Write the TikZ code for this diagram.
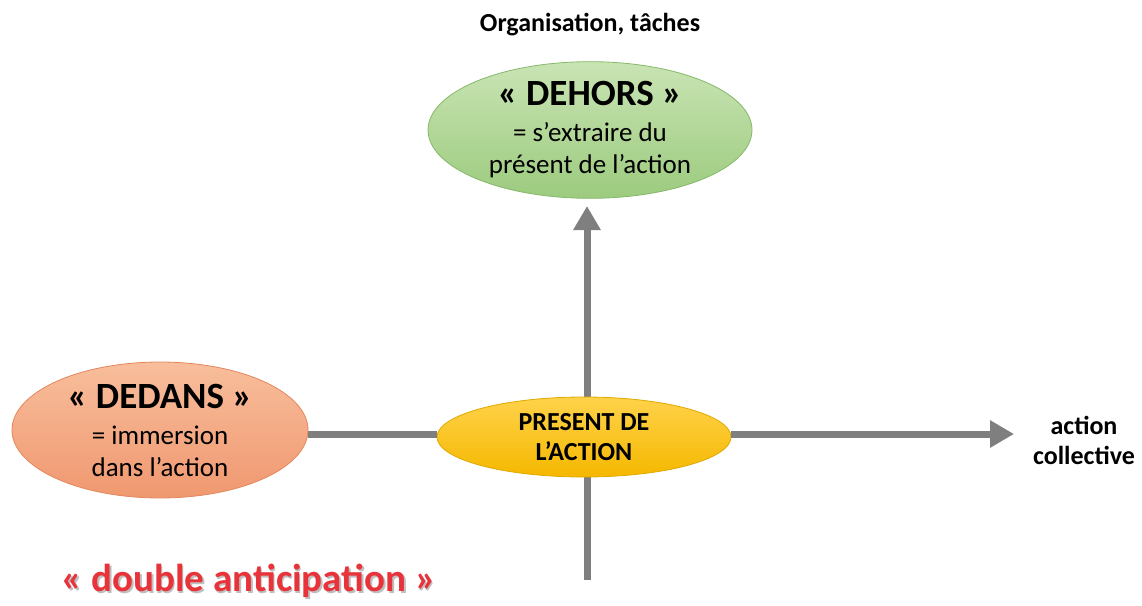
\documentclass[tikz,border=0pt]{standalone}
\usepackage{fontspec}
\setmainfont{Carlito}
\usetikzlibrary{shapes.geometric,arrows.meta}
\definecolor{axisgray}{HTML}{7F7F7F}
\definecolor{greenA}{HTML}{C9E4B4}
\definecolor{greenB}{HTML}{9CCB7E}
\definecolor{greenE}{HTML}{86B86A}
\definecolor{orangeA}{HTML}{F8BE9C}
\definecolor{orangeB}{HTML}{F09870}
\definecolor{orangeE}{HTML}{E3875C}
\definecolor{yellowA}{HTML}{FFD24A}
\definecolor{yellowB}{HTML}{F5B800}
\definecolor{yellowE}{HTML}{E0A800}
\definecolor{titlered}{HTML}{E8333A}
\newcommand{\headfont}{\bfseries\fontsize{37}{40}\selectfont}
\newcommand{\bodyfont}{\mdseries\fontsize{27}{32}\selectfont}
\tikzset{
  bubble/.style={ellipse, inner sep=0pt, align=center, line width=0.8pt},
  axis/.style={draw=axisgray, line width=7pt},
  axisarrow/.style={axis, -{Triangle[length=24pt, width=26pt]}},
  sidelabel/.style={font=\bfseries\fontsize{26}{30}\selectfont, align=center},
}
\begin{document}
\begin{tikzpicture}[x=1pt,y=-1pt]
  \useasboundingbox (0,0) rectangle (1142,605);

  % bubbles
  \node[bubble, minimum width=324pt, minimum height=134pt, font=\bodyfont,
        draw=greenE, top color=greenA, bottom color=greenB] (dehors) at (590,130)
    {\headfont « DEHORS »\\[4pt]
     \bodyfont = s’extraire du\\\bodyfont présent de l’action};
  \node[bubble, minimum width=296pt, minimum height=136pt, font=\bodyfont,
        draw=orangeE, top color=orangeA, bottom color=orangeB] (dedans) at (160,430)
    {\headfont « DEDANS »\\[4pt]
     \bodyfont = immersion\\\bodyfont dans l’action};

  % axis anchors
  \coordinate (bottom) at (587,580);
  \coordinate (top) at (587,206);
  \coordinate (right) at (1014,434);

  % vertical axis behind the central bubble
  \draw[axisarrow] (bottom) -- (top);

  % central bubble
  \node[bubble, minimum width=294pt, minimum height=80pt,
        draw=yellowE, top color=yellowA, bottom color=yellowB,
        font=\bfseries\fontsize{26}{30}\selectfont] (present) at (584,437)
    {PRESENT DE\\L’ACTION};

  % horizontal axis
  \draw[axis] (dedans.east |- right) -- (present.west |- right);
  \draw[axisarrow] (present.east |- right) -- (right);

  % labels
  \node[sidelabel] (orga) at (590,25) {Organisation, tâches};
  \node[sidelabel] (coll) at (1084,440) {action\\collective};

  % title with a soft shadow
  \node[font=\bfseries\fontsize{39}{44}\selectfont, text=black!25] (shadow) at (250.5,582.5)
    {« double anticipation »};
  \node[font=\bfseries\fontsize{39}{44}\selectfont, text=titlered] (title) at (249,581)
    {« double anticipation »};
\end{tikzpicture}
\end{document}
